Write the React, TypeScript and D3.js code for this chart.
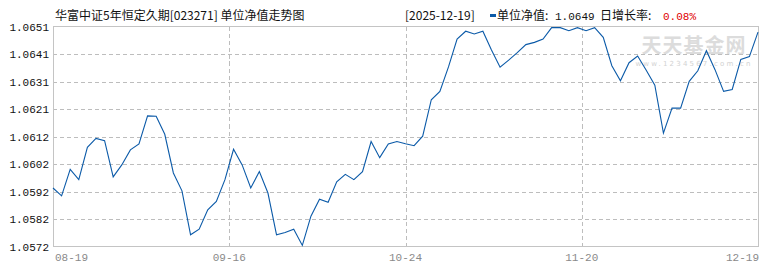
import React from "react";
import * as d3 from "d3";

// ---- data ----
const xTickLabels = ["08-19", "09-16", "10-24", "11-20", "12-19"];
const yTickLabels = ["1.0572", "1.0582", "1.0592", "1.0602", "1.0612", "1.0621", "1.0631", "1.0641", "1.0651"];
const navValues = [
  1.0593, 1.05902, 1.05997, 1.0596, 1.06076, 1.06108, 1.061, 1.0597, 1.06013, 1.06067,
  1.06088, 1.06189, 1.06188, 1.06123, 1.05984, 1.0592, 1.05762, 1.05782, 1.05852, 1.05882,
  1.0596, 1.06069, 1.06013, 1.0593, 1.05989, 1.05912, 1.05762, 1.0577, 1.05782, 1.05724,
  1.05829, 1.0589, 1.05879, 1.05952, 1.05979, 1.0596, 1.05989, 1.06097, 1.06039, 1.06088,
  1.06097, 1.06089, 1.06082, 1.06116, 1.06247, 1.06277, 1.06365, 1.06465, 1.06493, 1.06483,
  1.06493, 1.06426, 1.06364, 1.06389, 1.06416, 1.06445, 1.06453, 1.06465, 1.06506, 1.06506,
  1.06495, 1.06506, 1.06495, 1.06506, 1.06471, 1.06369, 1.06315, 1.0638, 1.06404, 1.06353,
  1.06299, 1.06127, 1.06217, 1.06217, 1.06313, 1.06351, 1.06423, 1.06355, 1.06277, 1.06284,
  1.06392, 1.06402, 1.0649,
];
const titleText = "华富中证5年恒定久期[023271] 单位净值走势图";
const dateText = "[2025-12-19]";
const navLabel = "单位净值:";
const navLatest = "1.0649";
const growthLabel = "日增长率:";
const growthValue = "0.08%";

const W = 770;
const H = 270;
const M = { left: 53, right: 758, top: 26.5, bottom: 246.5 };

export default function App() {
  const n = navValues.length;
  const x = d3.scaleLinear().domain([0, n - 1]).range([M.left, M.right]);
  const y = d3.scaleLinear().domain([1.0572, 1.0651]).range([M.bottom, M.top]);
  const yPos = d3.scaleLinear().domain([0, yTickLabels.length - 1]).range([M.bottom, M.top]);
  const xPos = d3.scaleLinear().domain([0, xTickLabels.length - 1]).range([M.left, M.right]);

  const line = d3
    .line<number>()
    .x((_, i) => x(i))
    .y((d) => y(d));

  const gridColor = "#bdbdbd";
  const monoFont = "'Liberation Mono', 'DejaVu Sans Mono', monospace";
  const cjkFont = "'Noto Sans CJK SC', sans-serif";

  return (
    <svg
      width={W}
      height={H}
      style={{ position: "absolute", left: 0, top: 0, background: "#fff" }}
    >
      {/* watermark */}
      <text x={694} y={53} textAnchor="middle" fontFamily={cjkFont} fontWeight="bold" fontSize={20} fill="#dcdcdc" letterSpacing={1}>
        天天基金网
      </text>
      <text x={694} y={66} textAnchor="middle" fontFamily="'DejaVu Sans', sans-serif" fontSize={7} fill="#d2d2d2" letterSpacing={2.2}>
        www.1234567.com.cn
      </text>

      {/* horizontal grid */}
      {yTickLabels.map((_, i) =>
        i > 0 && i < yTickLabels.length - 1 ? (
          <line
            key={"h" + i}
            x1={M.left}
            x2={M.right}
            y1={Math.round(yPos(i)) + 0.5}
            y2={Math.round(yPos(i)) + 0.5}
            stroke={gridColor}
            strokeDasharray="4,3"
            shapeRendering="crispEdges"
          />
        ) : null
      )}
      {/* vertical grid */}
      {xTickLabels.map((_, i) =>
        i > 0 && i < xTickLabels.length - 1 ? (
          <line
            key={"v" + i}
            x1={Math.round(xPos(i)) + 0.5}
            x2={Math.round(xPos(i)) + 0.5}
            y1={M.top}
            y2={M.bottom}
            stroke={gridColor}
            strokeDasharray="4,3"
            shapeRendering="crispEdges"
          />
        ) : null
      )}

      {/* frame */}
      <rect
        x={M.left + 0.5}
        y={M.top}
        width={M.right - M.left}
        height={M.bottom - M.top}
        fill="none"
        stroke="#c4c4c4"
        shapeRendering="crispEdges"
      />

      {/* line */}
      <path d={line(navValues) || ""} fill="none" stroke="#0b5aa8" strokeWidth={1.1} />

      {/* y labels */}
      {yTickLabels.map((t, i) => (
        <text key={"yl" + i} x={49} y={yPos(i) + 4} textAnchor="end" fontFamily={monoFont} fontSize={11} fill="#111">
          {t}
        </text>
      ))}

      {/* x labels */}
      {xTickLabels.map((t, i) => (
        <text
          key={"xl" + i}
          x={i === 0 ? M.left + 2 : i === xTickLabels.length - 1 ? M.right + 1 : xPos(i)}
          y={261}
          textAnchor={i === 0 ? "start" : i === xTickLabels.length - 1 ? "end" : "middle"}
          fontFamily={monoFont}
          fontSize={11}
          fill="#8a8a8a"
        >
          {t}
        </text>
      ))}

      {/* title */}
      <text x={55} y={20} fontFamily={cjkFont} fontSize={12} fill="#111">
        {titleText}
      </text>

      {/* header right */}
      <text x={405} y={20} fontFamily={cjkFont} fontSize={12} fill="#111">
        {dateText}
      </text>
      <rect x={490} y={14} width={6} height={3} fill="#0b5aa8" />
      <text x={497} y={20} fontFamily={cjkFont} fontSize={12} fill="#111">
        {navLabel}
      </text>
      <text x={555} y={20} fontFamily={monoFont} fontSize={11} fill="#111">
        {navLatest}
      </text>
      <text x={600} y={20} fontFamily={cjkFont} fontSize={12} fill="#111">
        {growthLabel}
      </text>
      <text x={663} y={20} fontFamily={monoFont} fontSize={11} fill="#e00000">
        {growthValue}
      </text>
    </svg>
  );
}
